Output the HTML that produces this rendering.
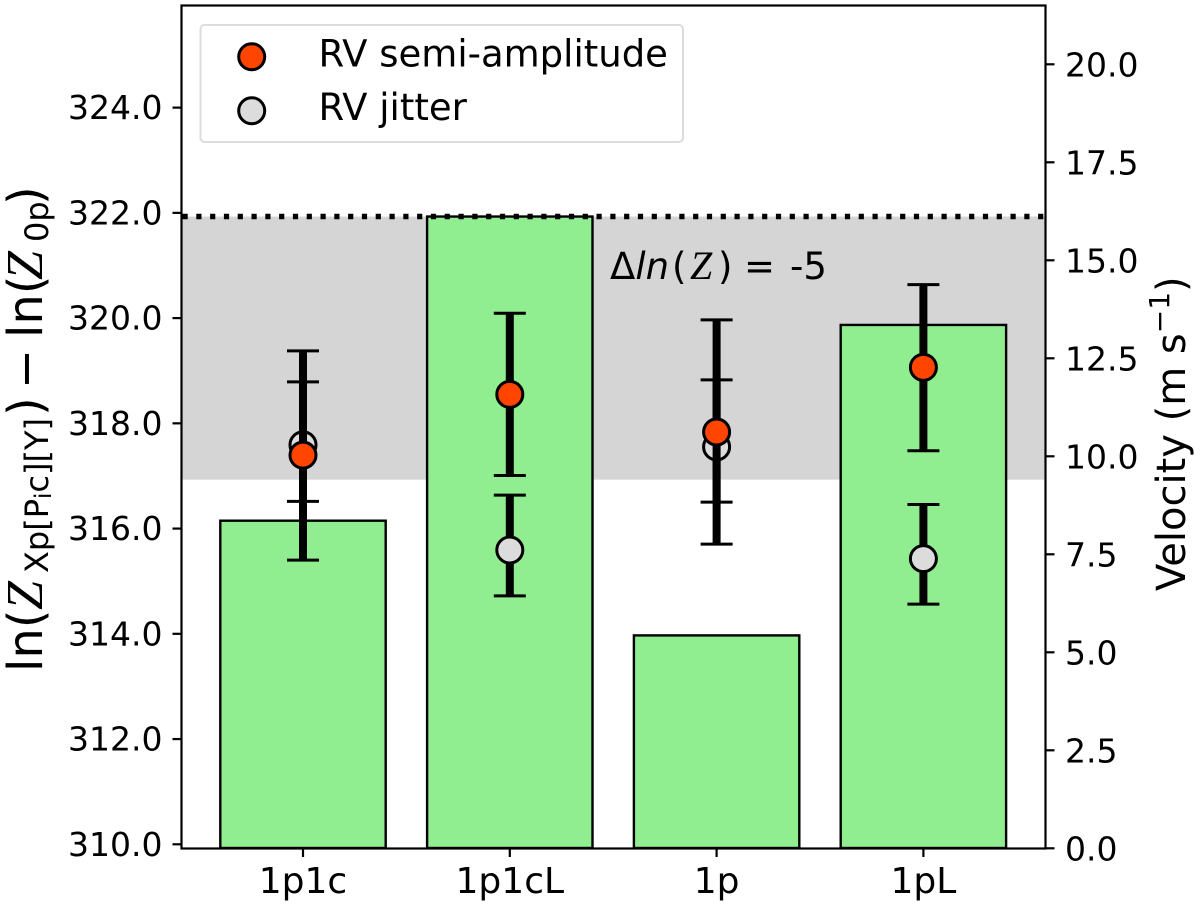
<!DOCTYPE html>
<html lang="en">
<head>
<meta charset="utf-8">
<title>Bayesian evidence and RV velocity chart</title>
<style>
html,body{margin:0;padding:0;background:#fff;width:1200px;height:907px;overflow:hidden}
svg{display:block}
text{font-family:"DejaVu Sans","Liberation Sans",sans-serif;fill:#000}
.cal{font-family:"Liberation Serif","DejaVu Serif",serif;font-style:italic}
</style>
</head>
<body>
<svg id="chart" xmlns="http://www.w3.org/2000/svg" width="1200" height="907" viewBox="0 0 1200 907">
  <g id="layer-band"></g>
  <g id="layer-bars"></g>
  <g id="layer-ref"></g>
  <g id="layer-points"></g>
  <rect x="181.5" y="5.5" width="864" height="843" fill="none" stroke="#000" stroke-width="2.2"/>
  <g id="layer-axes"></g>

  <text y="279" font-size="37"><tspan x="610">Δ</tspan><tspan font-style="italic">ln</tspan><tspan x="672">(</tspan><tspan class="cal" x="690" font-size="40">Z</tspan><tspan x="718">)</tspan><tspan x="744">=</tspan><tspan x="790">-5</tspan></text>

  <g>
    <rect x="200.5" y="25" width="482.5" height="117" rx="4" fill="#fff" fill-opacity="0.8" stroke="#dcdcdc" stroke-width="2"/>
    <circle cx="251.7" cy="56.7" r="13" fill="#ff4500" stroke="#000" stroke-width="3"/>
    <text x="318.5" y="66.7" font-size="37">RV semi-amplitude</text>
    <circle cx="251.7" cy="110.7" r="13" fill="#dcdcdc" stroke="#000" stroke-width="3"/>
    <text x="318.5" y="120" font-size="37">RV jitter</text>
  </g>

  <text transform="translate(42,672) rotate(-90)" font-size="48"><tspan x="0">ln(</tspan><tspan class="cal" x="62" font-size="52">Z</tspan><tspan font-size="32" x="99" dy="6">Xp[P</tspan><tspan font-size="23" dy="3">i</tspan><tspan font-size="32" dy="-3">c][Y]</tspan><tspan x="256" dy="-6">)</tspan><tspan x="283">−</tspan><tspan x="334">ln(</tspan><tspan class="cal" x="392" font-size="52">Z</tspan><tspan font-size="32" x="430" dy="6">0p</tspan><tspan x="467" dy="-6">)</tspan></text>
  <text transform="translate(1185,591) rotate(-90)" font-size="40">Velocity (m s<tspan font-size="28" dy="-16">−1</tspan><tspan dy="16">)</tspan></text>
</svg>
<script>
// Chart data
const categories = ['1p1c', '1p1cL', '1p', '1pL'];
const evidence = [316.15, 321.93, 313.97, 319.87];
const semiValue = [10.03, 11.58, 10.62, 12.27];
const semiLow = [7.35, 9.51, 7.76, 10.14];
const semiHigh = [12.69, 13.65, 13.48, 14.38];
const jitterValue = [10.29, 7.61, 10.24, 7.39];
const jitterLow = [8.85, 6.44, 8.83, 6.23];
const jitterHigh = [11.90, 9.01, 11.95, 8.77];
const leftTicks = [310, 312, 314, 316, 318, 320, 322, 324];
const rightTicks = [0, 2.5, 5, 7.5, 10, 12.5, 15, 17.5, 20];
const maxEvidence = 321.93;
const bandDepth = 5;

// Axis functions
const xPos = i => 303 + 206.8 * i;
const yLeft = v => 844.3 - (v - 310) * 52.62;
const yRight = v => 848.3 - v * 39.2;

const NS = 'http://www.w3.org/2000/svg';
function mk(parent, tag, attrs, txt) {
  const el = document.createElementNS(NS, tag);
  for (const k in attrs) el.setAttribute(k, attrs[k]);
  if (txt !== undefined) el.textContent = txt;
  parent.appendChild(el);
  return el;
}
const PLOT_L = 181.5, PLOT_R = 1045.5, PLOT_B = 848;
const layerBand = document.getElementById('layer-band');
const layerBars = document.getElementById('layer-bars');
const layerRef = document.getElementById('layer-ref');
const layerPoints = document.getElementById('layer-points');
const layerAxes = document.getElementById('layer-axes');

// Evidence band
const band = mk(layerBand, 'rect', {x: PLOT_L, y: yLeft(maxEvidence), width: PLOT_R - PLOT_L, height: yLeft(maxEvidence - bandDepth) - yLeft(maxEvidence), fill: '#d5d5d5'});



// Bars
const barW = 165.4;
categories.forEach((c, i) => {
  const top = yLeft(evidence[i]);
  const bar = mk(layerBars, 'rect', {x: xPos(i) - barW / 2, y: top, width: barW, height: PLOT_B - top, fill: '#90ee90', stroke: '#000', 'stroke-width': 2.4});
  
  
});

// Dotted reference line
const refLine = mk(layerRef, 'line', {x1: PLOT_L + 1, x2: PLOT_R, y1: yLeft(maxEvidence), y2: yLeft(maxEvidence), stroke: '#000', 'stroke-width': 5.5, 'stroke-dasharray': '5.2 8.6'});



// Error bars and points
function drawSeries(kind, values, lows, highs, fill) {
  categories.forEach((c, i) => {
    const x = xPos(i), yLo = yRight(lows[i]), yHi = yRight(highs[i]);
    const stem = mk(layerPoints, 'line', {x1: x, x2: x, y1: yLo, y2: yHi, stroke: '#000', 'stroke-width': 8});
    
    
    const capLow = mk(layerPoints, 'line', {x1: x - 16, x2: x + 16, y1: yLo, y2: yLo, stroke: '#000', 'stroke-width': 3});
    
    
    const capHigh = mk(layerPoints, 'line', {x1: x - 16, x2: x + 16, y1: yHi, y2: yHi, stroke: '#000', 'stroke-width': 3});
    
    
    const dot = mk(layerPoints, 'circle', {cx: x, cy: yRight(values[i]), r: 13, fill: fill, stroke: '#000', 'stroke-width': 3});
    
    
  });
}
drawSeries('jitter', jitterValue, jitterLow, jitterHigh, '#dcdcdc');
drawSeries('semi-amplitude', semiValue, semiLow, semiHigh, '#ff4500');

// Ticks
const TICK = 9, FS = 33, XFS = 36;
leftTicks.forEach(v => {
  const y = yLeft(v);
  const t = mk(layerAxes, 'line', {x1: PLOT_L - TICK, x2: PLOT_L, y1: y, y2: y, stroke: '#000', 'stroke-width': 2.2});
  
  
  const l = mk(layerAxes, 'text', {x: 162.5, y: y + 11.5, 'text-anchor': 'end', 'font-size': FS}, v.toFixed(1));
  
  
});
rightTicks.forEach(v => {
  const y = yRight(v);
  const t = mk(layerAxes, 'line', {x1: PLOT_R, x2: PLOT_R + TICK, y1: y, y2: y, stroke: '#000', 'stroke-width': 2.2});
  
  
  const l = mk(layerAxes, 'text', {x: 1065, y: y + 12, 'font-size': FS}, v.toFixed(1));
  
  
});
categories.forEach((c, i) => {
  const x = xPos(i);
  const t = mk(layerAxes, 'line', {x1: x, x2: x, y1: PLOT_B, y2: PLOT_B + TICK, stroke: '#000', 'stroke-width': 2.2});
  
  
  const l = mk(layerAxes, 'text', {x: x, y: 893, 'text-anchor': 'middle', 'font-size': XFS}, c);
  
  
});
</script>
</body>
</html>
